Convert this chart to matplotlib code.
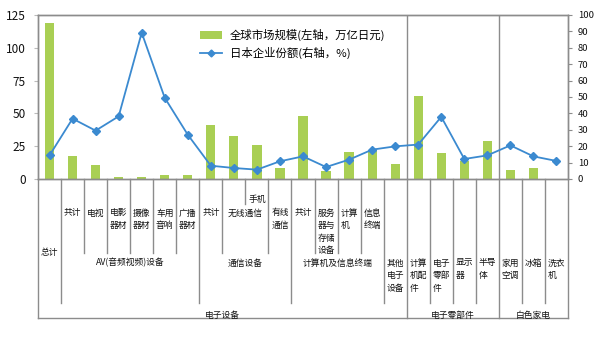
import matplotlib
matplotlib.use('Agg')
import matplotlib.pyplot as plt
import matplotlib.transforms as mtransforms
from matplotlib.patches import Patch
from matplotlib.lines import Line2D

plt.rcParams['font.family'] = ['Noto Sans CJK SC', 'DejaVu Sans']

# ---------------- data ----------------
categories = ['总计', '共计', '电视', '电影器材', '摄像器材', '车用音响', '广播器材',
              '共计', '无线通信', '手机', '有线通信',
              '共计', '服务器与存储设备', '计算机', '信息终端', '其他电子设备',
              '计算机配件', '电子零部件', '显示器', '半导体',
              '家用空调', '冰箱', '洗衣机']
market_size = [119, 17.3, 10.4, 1.2, 1.2, 2.7, 2.7,
               41.5, 33, 25.7, 8.4,
               48.3, 6.3, 20.6, 21.6, 11.7,
               63.1, 19.8, 14, 29.2,
               7.1, 8.4, 0]
japan_share = [14.4, 36.8, 29.5, 38.2, 89.2, 49.5, 27,
               8.1, 6.7, 5.7, 10.8,
               13.8, 7.3, 11.8, 17.9, 19.9,
               21, 37.9, 12.2, 14.4,
               20.5, 13.8, 11]
left_ticks = [0, 25, 50, 75, 100, 125]
right_ticks = [0, 10, 20, 30, 40, 50, 60, 70, 80, 90, 100]
series_names = ['全球市场规模(左轴，万亿日元)', '日本企业份额(右轴，%)']

# hierarchical category labels
top_labels = [('手机', 9)]
row_b = [(['共计'], 1, 1), (['电视'], 2, 2), (['电影', '器材'], 3, 3),
         (['摄像', '器材'], 4, 4), (['车用', '音响'], 5, 5), (['广播', '器材'], 6, 6),
         (['共计'], 7, 7), (['无线通信'], 8, 9), (['有线', '通信'], 10, 10),
         (['共计'], 11, 11), (['服务', '器与', '存储', '设备'], 12, 12),
         (['计算', '机'], 13, 13), (['信息', '终端'], 14, 14)]
row_c = [(['AV(音频视频)设备'], 1, 6), (['通信设备'], 7, 10),
         (['计算机及信息终端'], 11, 14), (['其他', '电子', '设备'], 15, 15),
         (['计算', '机配', '件'], 16, 16), (['电子', '零部', '件'], 17, 17),
         (['显示', '器'], 18, 18), (['半导', '体'], 19, 19),
         (['家用', '空调'], 20, 20), (['冰箱'], 21, 21), (['洗衣', '机'], 22, 22)]
total_label = ('总计', 0)
row_d = [('电子设备', 0, 15), ('电子零部件', 16, 19), ('白色家电', 20, 22)]

# ---------------- figure ----------------
W, H = 600, 344
fig = plt.figure(figsize=(W / 100, H / 100), dpi=100)
ax_l, ax_r, ax_t, ax_b = 38, 568, 15, 179
ax = fig.add_axes([ax_l / W, 1 - ax_b / H, (ax_r - ax_l) / W, (ax_b - ax_t) / H])
ax2 = ax.twinx()

n = len(categories)
x = list(range(n))
bar_color = '#A9CF54'
line_color = '#3B8AD0'
grey = '#8C8C8C'

ax.bar(x, market_size, width=0.4, color=bar_color, zorder=2)
ax2.plot(x, japan_share, color=line_color, lw=1.3, marker='D', markersize=4.3,
         markerfacecolor=line_color, markeredgecolor=line_color, zorder=3)

ax.set_xlim(-0.5, n - 0.5)
ax.set_ylim(0, 125)
ax2.set_ylim(0, 100)
ax.set_yticks(left_ticks)
ax2.set_yticks(right_ticks)
ax.set_xticks([])

ax.tick_params(axis='y', direction='out', length=3, color='#BBBBBB', pad=6,
               labelsize=8.5, labelcolor='#111111')
ax2.tick_params(axis='y', direction='out', length=3, color=grey, pad=4,
                labelsize=6.8, labelcolor='#111111')
for a in (ax, ax2):
    for s in a.spines.values():
        s.set_color(grey)
        s.set_linewidth(1)

# separators inside plot
for b in (16, 20):
    ax.axvline(b - 0.5, color=grey, lw=1, zorder=1)

# ---------------- category axis ----------------
trans = mtransforms.blended_transform_factory(ax.transData, fig.transFigure)

def fy(px):
    return 1 - px / H

depth = {0: 318, 1: 303, 7: 303, 11: 303, 15: 303, 16: 318, 17: 303, 18: 303,
         19: 303, 20: 318, 21: 303, 22: 303, 23: 318, 9: 204}
for b in range(n + 1):
    d = depth.get(b, 253)
    ax.add_line(Line2D([b - 0.5, b - 0.5], [fy(ax_b), fy(d)], transform=trans,
                       color=grey, lw=1, clip_on=False))
ax.add_line(Line2D([-0.5, n - 0.5], [fy(318), fy(318)], transform=trans,
                   color=grey, lw=1, clip_on=False))
ax.set_xlim(-0.5, n - 0.5)

fs = 6.3
char_px = fs * 100 / 72
line_h = 12.6

def put(lines, xc, y0):
    if len(lines) == 1:
        ax.text(xc, fy(y0), lines[0], transform=trans, ha='center', va='center',
                fontsize=fs, color='#111111')
        return
    w = max(len(s) for s in lines) * char_px
    tr = mtransforms.offset_copy(trans, fig=fig, x=-w / 2, y=0, units='dots')
    for k, s in enumerate(lines):
        ax.text(xc, fy(y0 + k * line_h), s, transform=tr, ha='left', va='center',
                fontsize=fs, color='#111111')

for t, i in top_labels:
    put([t], i, 199)
for lines, a, b in row_b:
    put(lines, (a + b) / 2, 213)
for lines, a, b in row_c:
    put(lines, (a + b) / 2, 263)
put([total_label[0]], total_label[1], 253)
for t, a, b in row_d:
    put([t], (a + b) / 2, 315)

# ---------------- legend ----------------
handles = [Patch(facecolor=bar_color, edgecolor='none'),
           Line2D([], [], color=line_color, lw=1.3, marker='D', markersize=3.5)]
ax2.legend(handles, series_names, loc='upper left', frameon=False,
           bbox_to_anchor=(200 / W, 1 - 29 / H), bbox_transform=fig.transFigure,
           fontsize=8.2, handlelength=1.9, handleheight=0.6, handletextpad=0.7,
           labelspacing=0.5, borderpad=0, borderaxespad=0)

fig.savefig('out.png', dpi=100)
